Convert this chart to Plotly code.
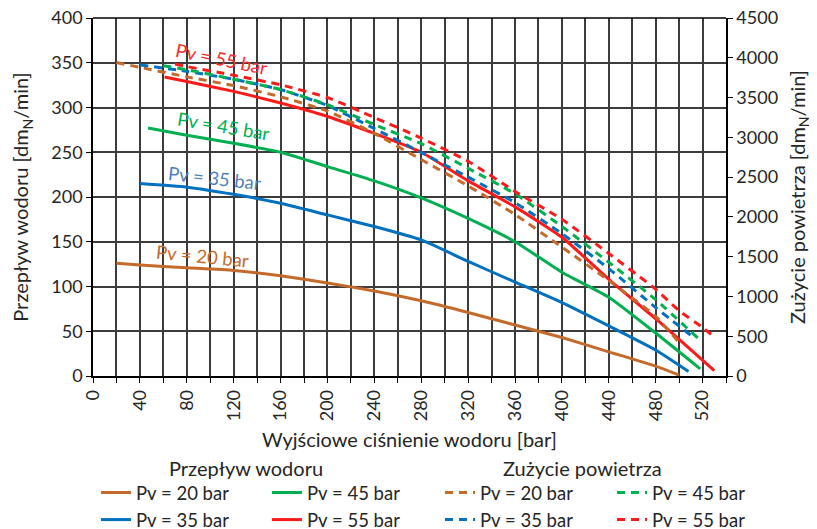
import plotly.graph_objects as go

# ---- data ----
# Przepływ wodoru [dm_N/min] (left axis), solid lines
x_h20 = [20, 40, 80, 120, 160, 200, 240, 280, 320, 360, 400, 440, 480, 500]
h20 = [126, 124, 121, 118, 112, 104, 95, 84, 71, 57, 43, 27, 11, 1]
x_h35 = [40, 80, 120, 160, 200, 240, 280, 320, 360, 400, 440, 480, 508]
h35 = [215, 211, 203, 193, 180, 167, 152, 128, 105, 82, 56, 29, 5]
x_h45 = [47, 80, 120, 160, 200, 240, 280, 320, 360, 400, 440, 480, 518]
h45 = [277, 269, 260, 250, 234, 218, 199, 176, 150, 116, 88, 48, 8]
x_h55 = [61, 80, 120, 160, 200, 240, 280, 320, 360, 400, 440, 480, 500, 530]
h55 = [334, 329, 318, 305, 290, 271, 250, 218, 189, 155, 108, 64, 41, 6]

# Zużycie powietrza [dm_N/min] (right axis), dashed lines
x_a20 = [20, 40, 80, 120, 160, 200, 240, 280, 320, 360, 400, 440, 480, 500]
a20 = [3940, 3880, 3760, 3650, 3510, 3330, 3050, 2720, 2390, 2030, 1620, 1200, 750, 420]
x_a35 = [40, 80, 120, 160, 200, 240, 280, 320, 360, 400, 440, 480, 512]
a35 = [3910, 3830, 3730, 3600, 3400, 3110, 2810, 2500, 2180, 1790, 1350, 860, 490]
x_a45 = [60, 80, 120, 160, 200, 240, 280, 320, 360, 400, 440, 480, 518]
a45 = [3900, 3850, 3730, 3600, 3410, 3160, 2920, 2610, 2290, 1880, 1430, 960, 450]
x_a55 = [70, 80, 120, 160, 200, 240, 280, 320, 360, 400, 440, 480, 500, 520, 530]
a55 = [3920, 3890, 3780, 3660, 3500, 3250, 2990, 2700, 2320, 1970, 1540, 1090, 820, 610, 490]

labels = ["Pv = 20 bar", "Pv = 35 bar", "Pv = 45 bar", "Pv = 55 bar"]
x_ticks = list(range(0, 521, 40))

BROWN = "#C46A2B"
BLUE = "#0070C0"
GREEN = "#00B050"
RED = "#FF1A1A"
colors = [BROWN, BLUE, GREEN, RED]

FONT = "Lato"
TXT = "#262626"

fig = go.Figure()

solid = [(x_h20, h20), (x_h35, h35), (x_h45, h45), (x_h55, h55)]
dashed = [(x_a20, a20), (x_a35, a35), (x_a45, a45), (x_a55, a55)]
solid_legend = ["legend", "legend", "legend2", "legend2"]
dashed_legend = ["legend3", "legend3", "legend4", "legend4"]

for i, (xs, ys) in enumerate(solid):
    fig.add_trace(go.Scatter(
        x=xs, y=ys, mode="lines", name=labels[i],
        line=dict(color=colors[i], width=3, shape="spline", smoothing=0.5),
        legend=solid_legend[i], yaxis="y"))

for i, (xs, ys) in enumerate(dashed):
    fig.add_trace(go.Scatter(
        x=xs, y=ys, mode="lines", name=labels[i],
        line=dict(color=colors[i], width=3, dash="8px,6px", shape="spline", smoothing=0.5),
        legend=dashed_legend[i], yaxis="y2"))

# The page body has an 8px margin, so the figure is laid out 8px smaller
OFF = 8
W, H = 817 - OFF, 529 - OFF
PL, PR, PT, PB = 93 - OFF, 91, 18 - OFF, 153
pw, ph = W - PL - PR, H - PT - PB


def px_x(px):  # reference pixel -> paper x
    return (px - OFF - PL) / pw


def px_y(py):  # reference pixel -> paper y
    return (H - PB - (py - OFF)) / ph


leg_common = dict(font=dict(family=FONT, size=18.5, color=TXT), bgcolor="rgba(0,0,0,0)",
                  orientation="v", xanchor="left", yanchor="top", tracegroupgap=0,
                  itemwidth=30)
ly = px_y(474)
fig.update_layout(
    legend=dict(x=px_x(96), y=ly, **leg_common),
    legend2=dict(x=px_x(267), y=ly, **leg_common),
    legend3=dict(x=px_x(440), y=ly, **leg_common),
    legend4=dict(x=px_x(612), y=ly, **leg_common),
)

grid_col = "#3c3c3c"
fig.update_layout(
    width=W, height=H,
    margin=dict(l=PL, r=PR, t=PT, b=PB, pad=0, autoexpand=False),
    paper_bgcolor="white", plot_bgcolor="white",
    font=dict(family=FONT, size=18, color=TXT),
    showlegend=True,
    xaxis=dict(
        range=[0, 540], tickvals=x_ticks, ticktext=[str(v) for v in x_ticks],
        tickangle=-90, ticks="outside", ticklen=5, tickcolor="black",
        showgrid=True, gridcolor=grid_col, gridwidth=1.5,
        minor=dict(dtick=20, tick0=0, showgrid=True, gridcolor=grid_col, gridwidth=1.5,
                   ticks="outside", ticklen=5, tickcolor="black"),
        showline=True, linecolor="black", linewidth=1.5, mirror=False,
        zeroline=False, automargin=False, ticklabeloverflow="allow",
        tickfont=dict(family=FONT, size=18, color=TXT),
        title=dict(text="Wyjściowe ciśnienie wodoru [bar]", standoff=13,
                   font=dict(family=FONT, size=20, color=TXT)),
    ),
    yaxis=dict(
        range=[0, 400], dtick=50, tick0=0,
        ticks="outside", ticklen=5, tickcolor="black",
        showgrid=True, gridcolor=grid_col, gridwidth=1.5,
        showline=True, linecolor="black", linewidth=1.5,
        zeroline=False, automargin=False, ticklabeloverflow="allow",
        tickfont=dict(family=FONT, size=18, color=TXT),
        title=dict(text="Przepływ wodoru [dm<sub>N</sub>/min]", standoff=17,
                   font=dict(family=FONT, size=20, color=TXT)),
    ),
    yaxis2=dict(
        range=[0, 4500], dtick=500, tick0=0, overlaying="y", side="right",
        ticks="outside", ticklen=5, tickcolor="black",
        showgrid=False, showline=True, linecolor="black", linewidth=1.5,
        zeroline=False, automargin=False, ticklabeloverflow="allow",
        tickfont=dict(family=FONT, size=18, color=TXT),
        title=dict(text="Zużycie powietrza [dm<sub>N</sub>/min]", standoff=14,
                   font=dict(family=FONT, size=20, color=TXT)),
    ),
)

# top border of the plot area
fig.add_shape(type="line", xref="paper", yref="paper", x0=0, x1=1, y0=1, y1=1,
              line=dict(color="black", width=1.5))

# curve labels
ann = [
    ("Pv = 55 bar", 110, 354, "#FF2A2A", 11.5),
    ("Pv = 45 bar", 111, 279, GREEN, 9.6),
    ("Pv = 35 bar", 104, 221, "#4E7FBF", 6.5),
    ("Pv = 20 bar", 93, 134, BROWN, 5.6),
]
for t, xv, yv, c, ang in ann:
    fig.add_annotation(text=t, x=xv, y=yv, xref="x", yref="y", showarrow=False,
                       textangle=ang, font=dict(family=FONT, size=18.5, color=c))

# legend group titles
fig.add_annotation(text="Przepływ wodoru", x=px_x(246), y=px_y(468), xref="paper", yref="paper",
                   xanchor="center", yanchor="middle",
                   showarrow=False, font=dict(family=FONT, size=20, color=TXT))
fig.add_annotation(text="Zużycie powietrza", x=px_x(582), y=px_y(468), xref="paper", yref="paper",
                   xanchor="center", yanchor="middle",
                   showarrow=False, font=dict(family=FONT, size=20, color=TXT))

fig.write_html("out.html")
